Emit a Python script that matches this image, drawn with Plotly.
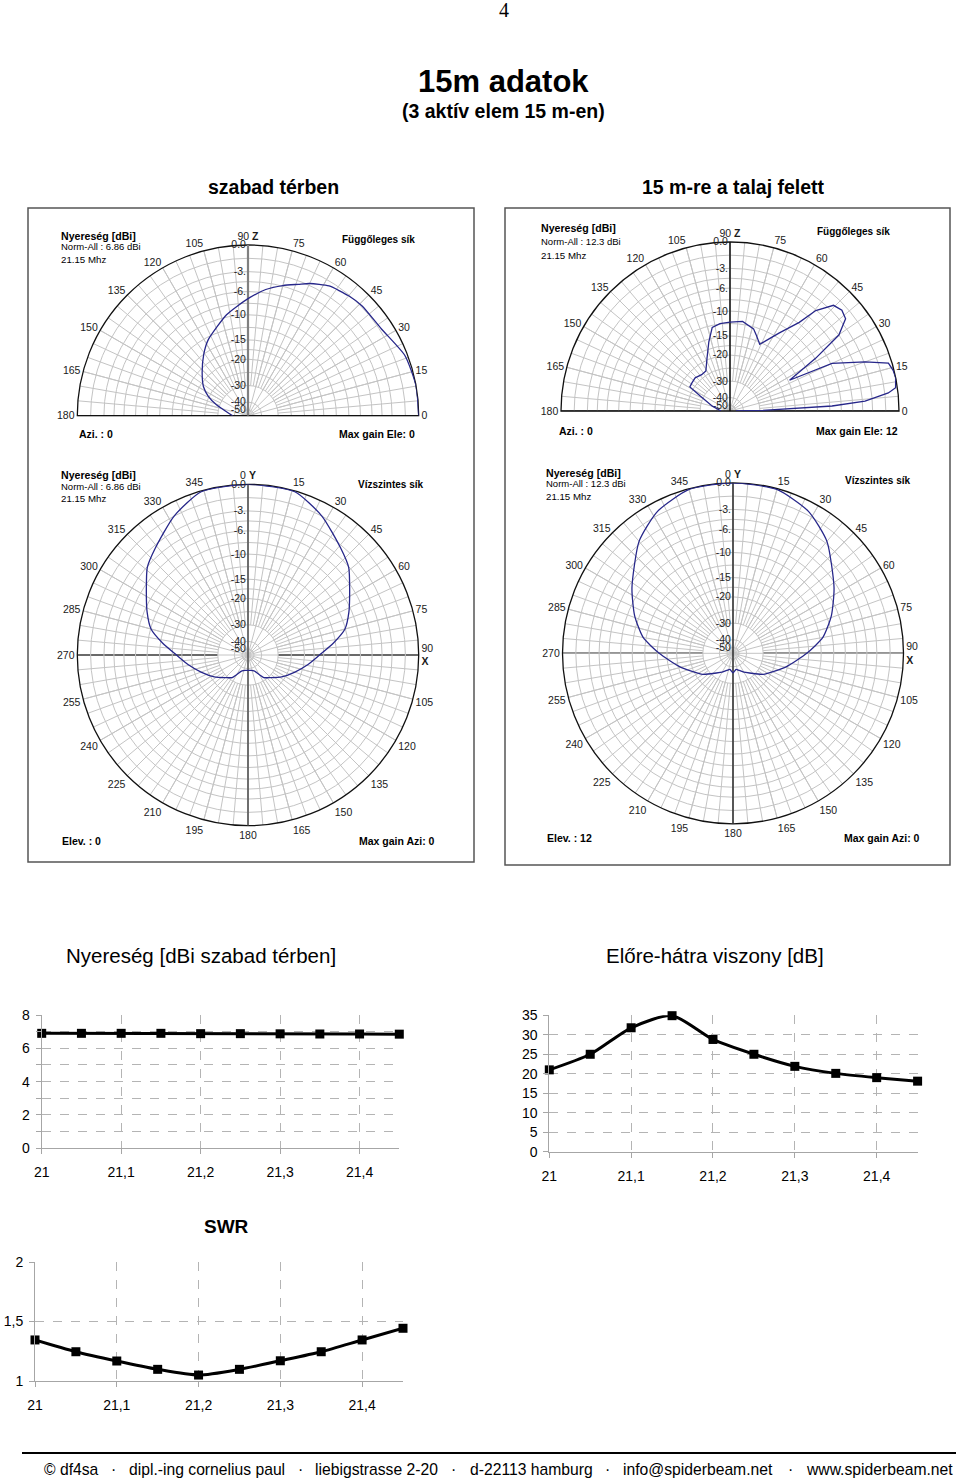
import numpy as np
import plotly.graph_objects as go

W, H = 960, 1480

# ---------------- data ----------------
freq_mhz = [21.0, 21.05, 21.1, 21.15, 21.2, 21.25, 21.3, 21.35, 21.4, 21.45]
gain_dbi = [6.9, 6.9, 6.9, 6.9, 6.88, 6.88, 6.87, 6.86, 6.86, 6.85]
front_back_db = [21.0, 25.0, 31.8, 34.9, 28.8, 25.0, 21.9, 20.1, 19.0, 18.1]
swr_values = [1.345, 1.246, 1.168, 1.098, 1.05, 1.098, 1.17, 1.246, 1.345, 1.443]
freq_ticks = [21.0, 21.1, 21.2, 21.3, 21.4]
freq_labels = ["21", "21,1", "21,2", "21,3", "21,4"]

# radial scale of the pattern plots (dB -> relative radius, read from ring positions)
scale_db = [-50, -40, -30, -20, -15, -10, -6, -3, 0]
scale_r = [0.035, 0.08, 0.177, 0.331, 0.444, 0.591, 0.727, 0.844, 1.0]
ring_db = [0, -3, -6, -10, -15, -20, -30, -40, -50]
ring_labels = ["0.0", "-3.", "-6.", "-10", "-15", "-20", "-30", "-40", "-50"]
minor_ring_db = [-1.5, -4.5, -8, -12.5, -17.5, -25]

# elevation pattern, free space
elev_free_deg = [0, 10, 21, 33, 44, 50, 58, 65, 69, 75, 82, 89, 96, 102, 109, 118,
                 126, 137, 147, 154, 161, 174, 180]
elev_free_db = [0, 0, -0.3, -1.3, -1.4, -1.6, -2.0, -2.8, -3.5, -4.4, -5.5, -7.0,
                -8.5, -9.6, -11.3, -13.1, -15.1, -18.4, -21.3, -24.7, -28.8, -37.0, -39.0]

# elevation pattern, 15 m above ground
elev_gnd_deg = [0, 1.2, 2.8, 4.2, 6.5, 8, 11.5, 14, 16.8, 20, 25, 27.3, 31.6, 34.9,
                38.6, 42, 45.6, 49.5, 52, 57.7, 61.4, 66, 71, 74, 82, 90, 96.5, 102,
                107, 113.6, 121, 128, 136.4, 143.5, 149, 153.4, 164.7, 180]
elev_gnd_db = [-50, -28.8, -9.6, -4.1, -1.1, -0.2, 0, -0.1, -0.4, -2.9, -7.8, -17.1,
               -9.9, -4.5, -2.4, -2.1, -2.4, -4.6, -7.8, -11.5, -13.5, -15.5, -13.9,
               -12.9, -11.9, -12.2, -12.4, -12.9, -15.7, -19.6, -23.5, -23.8, -23.0,
               -23.3, -23.5, -28.7, -37.1, -46]

# azimuth pattern, free space
azim_free_deg = [0, 16, 28, 41, 49, 57, 67, 75, 82, 90, 99, 110, 123, 135, 145, 150,
                 158, 170, 180, 190, 202, 210, 215, 225, 237, 250, 261, 270, 278, 285,
                 293, 303, 311, 319, 332, 344, 360]
azim_free_db = [0, -0.1, -1.5, -3.4, -4.6, -6.5, -8.5, -10.1, -12.9, -16.1, -18.9,
                -22.5, -26.2, -29.3, -31.6, -34.5, -37.7, -38.8, -39.0, -38.8, -37.7,
                -34.5, -31.6, -29.3, -26.2, -22.5, -18.9, -16.1, -12.9, -10.1, -8.5,
                -6.5, -4.6, -3.4, -1.5, -0.1, 0]

# azimuth pattern, 15 m above ground (elev 12)
azim_gnd_deg = [0, 15, 28, 40, 57, 69, 80, 90, 104, 125, 140, 150, 160, 169, 180,
                191, 200, 210, 220, 235, 256, 270, 280, 291, 303, 320, 332, 345, 360]
azim_gnd_db = [0, -0.1, -1.1, -2.75, -6.6, -9.2, -11.9, -15.5, -20.5, -27.5, -32.7,
               -35.1, -37.2, -38.4, -36.4, -38.4, -37.2, -35.1, -32.7, -27.5, -20.5,
               -15.5, -11.9, -9.2, -6.6, -2.75, -1.1, -0.1, 0]

# ---------------- helpers ----------------
FONT = "Arial, Liberation Sans, sans-serif"
GRID = "#c4c4c4"
CURVE = "#27278a"


def xf(px):
    return px / W


def yf(py):
    return 1 - py / H


def r_of(db):
    return np.interp(np.clip(np.asarray(db, dtype=float), -50, 0), scale_db, scale_r)


fig = go.Figure()
layout = {}
annotations = []
shapes = []

panels = [
    dict(cx=248, cy=415.7, R=170.7, half=True, ang=elev_free_deg, db=elev_free_db,
         vcol="#808080", vw=2.2, hcol="#222222", hw=1.5, shape="spline"),
    dict(cx=730, cy=411, R=169, half=True, ang=elev_gnd_deg, db=elev_gnd_db,
         vcol="#111111", vw=1.5, hcol="#222222", hw=1.5, shape="linear"),
    dict(cx=248, cy=655, R=170.7, half=False, ang=azim_free_deg, db=azim_free_db,
         vcol="#555555", vw=1.6, hcol="#111111", hw=1.8, shape="spline"),
    dict(cx=733, cy=653.3, R=170.5, half=False, ang=azim_gnd_deg, db=azim_gnd_db,
         vcol="#222222", vw=1.4, hcol="#222222", hw=1.4, shape="spline"),
]

ring_vals = list(r_of(ring_db)) + list(r_of(minor_ring_db))
ring_text = ring_labels + [""] * len(minor_ring_db)

for i, p in enumerate(panels):
    spoke_name = "polar" if i == 0 else f"polar{2 * i + 1}"
    main_name = f"polar{2 * i + 2}"
    cx, cy, R = p["cx"], p["cy"], p["R"]
    if p["half"]:
        dom = dict(x=[xf(cx - R), xf(cx + R)], y=[yf(cy), yf(cy - R)])
        sector = [0, 180]
        rot, direc = 0, "counterclockwise"
        lab_vals = list(range(0, 181, 15))
        lab_text = ["90 <b>Z</b>" if v == 90 else str(v) for v in lab_vals]
        spoke_vals = list(range(0, 181, 5))
    else:
        dom = dict(x=[xf(cx - R), xf(cx + R)], y=[yf(cy + R), yf(cy - R)])
        sector = [0, 360]
        rot, direc = 90, "clockwise"
        lab_vals = list(range(0, 360, 15))
        lab_text = []
        for v in lab_vals:
            if v == 0:
                lab_text.append("0 <b>Y</b>")
            elif v == 90:
                lab_text.append("90<br><b>X</b>")
            else:
                lab_text.append(str(v))
        spoke_vals = list(range(0, 360, 5))

    # underlying polar: fine 5-degree spokes outside the inner rings
    layout[spoke_name] = dict(
        domain=dom, sector=sector, hole=float(r_of(-30)), bgcolor="white",
        radialaxis=dict(visible=False, range=[0, 1]),
        angularaxis=dict(rotation=rot, direction=direc, tickmode="array",
                         tickvals=spoke_vals, showticklabels=False, ticks="",
                         showline=False, showgrid=True, gridcolor=GRID, gridwidth=1),
    )
    # main polar: rings, 15-degree spokes, labels, pattern
    layout[main_name] = dict(
        domain=dom, sector=sector, bgcolor="rgba(0,0,0,0)",
        radialaxis=dict(range=[0, 1], tickmode="array", tickvals=ring_vals,
                        ticktext=ring_text, showline=False, ticks="", angle=90,
                        tickangle=90, side="counterclockwise", showgrid=True,
                        gridcolor=GRID, gridwidth=1, layer="below traces",
                        tickfont=dict(family=FONT, size=10.5, color="#222222")),
        angularaxis=dict(rotation=rot, direction=direc, tickmode="array",
                         tickvals=lab_vals, ticktext=lab_text, ticks="",
                         showline=True, linecolor="#111111", linewidth=1.3,
                         showgrid=True, gridcolor=GRID, gridwidth=1,
                         layer="below traces",
                         tickfont=dict(family=FONT, size=10.5, color="#1a1a1a")),
    )

    # axis lines through the centre
    if p["half"]:
        fig.add_trace(go.Scatterpolar(r=[1, 1], theta=[0, 180], mode="lines",
                                      line=dict(color=p["hcol"], width=p["hw"]),
                                      subplot=spoke_name, hoverinfo="skip",
                                      showlegend=False))
        fig.add_trace(go.Scatterpolar(r=[0, 1], theta=[90, 90], mode="lines",
                                      line=dict(color=p["vcol"], width=p["vw"]),
                                      subplot=main_name, hoverinfo="skip",
                                      showlegend=False))
    else:
        fig.add_trace(go.Scatterpolar(r=[1, 1], theta=[90, 270], mode="lines",
                                      line=dict(color=p["hcol"], width=p["hw"]),
                                      subplot=spoke_name, hoverinfo="skip",
                                      showlegend=False))
        fig.add_trace(go.Scatterpolar(r=[1, 1], theta=[0, 180], mode="lines",
                                      line=dict(color=p["vcol"], width=p["vw"]),
                                      subplot=main_name, hoverinfo="skip",
                                      showlegend=False))
    line_kw = dict(color=CURVE, width=1.3, shape=p["shape"])
    if p["shape"] == "spline":
        line_kw["smoothing"] = 0.6
    fig.add_trace(go.Scatterpolar(r=r_of(p["db"]), theta=p["ang"], mode="lines",
                                  line=line_kw, subplot=main_name,
                                  hoverinfo="skip", showlegend=False))


def add_text(text, x, y, size, bold=False, anchor="center", color="black",
             family=FONT):
    annotations.append(dict(
        text=f"<b>{text}</b>" if bold else text, x=xf(x), y=yf(y),
        xref="paper", yref="paper", xanchor=anchor, yanchor="middle",
        showarrow=False, borderpad=0,
        font=dict(family=family, size=size, color=color)))


# page header
add_text("4", 504, 10, 20, family="Liberation Serif, Times New Roman, serif")
add_text("15m adatok", 503, 82, 31, bold=True)
add_text("(3 aktív elem 15 m-en)", 503, 111, 19.5, bold=True)
add_text("szabad térben", 273, 187, 19.5, bold=True)
add_text("15 m-re a talaj felett", 733, 187, 19.5, bold=True)

# frames around the pattern plots
for (x0, y0, x1, y1) in [(28, 208, 474, 862), (505, 208, 950, 865)]:
    shapes.append(dict(type="rect", xref="paper", yref="paper",
                       x0=xf(x0), x1=xf(x1), y0=yf(y1), y1=yf(y0),
                       line=dict(color="#555555", width=1.5)))

# pattern plot captions
caption_sets = [
    (60, 236.2, 246.2, 259, "Norm-All : 6.86 dBi", 341, 239.3, "Függőleges sík",
     78, 434.3, "Azi. : 0", 338, "Max gain Ele: 0"),
    (539.7, 228.5, 241.2, 255.7, "Norm-All : 12.3 dBi", 816.3, 231.7, "Függőleges sík",
     558, 431, "Azi. : 0", 814.7, "Max gain Ele: 12"),
    (60.3, 475.2, 486.2, 499, "Norm-All : 6.86 dBi", 357.3, 484.3, "Vízszintes sík",
     61.3, 840.7, "Elev. : 0", 358, "Max gain Azi: 0"),
    (544.7, 472.8, 483.8, 496.7, "Norm-All : 12.3 dBi", 843.7, 480, "Vízszintes sík",
     545.7, 838.3, "Elev. : 12", 843, "Max gain Azi: 0"),
]
for (lx, y1, y2, y3, norm, rx, ry, plane, bx, by, btxt, mx, mtxt) in caption_sets:
    add_text("Nyereség [dBi]", lx, y1, 10.6, bold=True, anchor="left")
    add_text(norm, lx, y2, 9.5, anchor="left")
    add_text("21.15 Mhz", lx, y3, 9.7, anchor="left")
    add_text(plane, rx, ry, 10, bold=True, anchor="left")
    add_text(btxt, bx, by, 10.5, bold=True, anchor="left")
    add_text(mtxt, mx, by, 10.5, bold=True, anchor="left")

# line-chart titles
add_text("Nyereség [dBi szabad térben]", 201, 955, 20.5)
add_text("Előre-hátra viszony [dB]", 715, 955, 20.5)
add_text("SWR", 226, 1226, 19, bold=True)

# ---------------- line charts ----------------
AX = "#a6a6a6"
GR2 = "#b4b4b4"
tickfont = dict(family=FONT, size=14, color="black")

charts = [
    dict(x="x", y="y", xd=(41.7, 399.3), yd=(1015, 1148.3), yr=[0, 8],
         yt=[0, 2, 4, 6, 8], ytt=["0", "2", "4", "6", "8"], minor=1,
         vals=gain_dbi, shape="linear"),
    dict(x="x2", y="y2", xd=(549.3, 917.6), yd=(1015.3, 1151.7), yr=[0, 35],
         yt=[0, 5, 10, 15, 20, 25, 30, 35],
         ytt=["0", "5", "10", "15", "20", "25", "30", "35"], minor=None,
         vals=front_back_db, shape="spline"),
    dict(x="x3", y="y3", xd=(35, 403), yd=(1262, 1381), yr=[1, 2],
         yt=[1, 1.5, 2], ytt=["1", "1,5", "2"], minor=None,
         vals=swr_values, shape="spline"),
]
for k, c in enumerate(charts):
    xname = "xaxis" if k == 0 else f"xaxis{k + 1}"
    yname = "yaxis" if k == 0 else f"yaxis{k + 1}"
    layout[xname] = dict(
        domain=[xf(c["xd"][0]), xf(c["xd"][1])], range=[21, 21.45], anchor=c["y"],
        tickmode="array", tickvals=freq_ticks, ticktext=freq_labels,
        showgrid=True, gridcolor=GR2, griddash="dash", gridwidth=1,
        showline=True, linecolor=AX, linewidth=1, zeroline=False,
        ticks="outside", ticklen=5, tickcolor=AX, tickfont=tickfont,
        ticklabelstandoff=6, fixedrange=True)
    ydict = dict(
        domain=[yf(c["yd"][1]), yf(c["yd"][0])], range=c["yr"], anchor=c["x"],
        tickmode="array", tickvals=c["yt"], ticktext=c["ytt"],
        showgrid=True, gridcolor=GR2, griddash="dash", gridwidth=1,
        showline=True, linecolor=AX, linewidth=1, zeroline=False,
        ticks="outside", ticklen=5, tickcolor=AX, tickfont=tickfont,
        ticklabelstandoff=3, fixedrange=True)
    if c["minor"]:
        ydict["minor"] = dict(dtick=c["minor"], tick0=0, showgrid=True,
                              gridcolor=GR2, griddash="dash", ticks="outside",
                              ticklen=5, tickcolor=AX)
    layout[yname] = ydict
    lk = dict(color="black", width=3, shape=c["shape"])
    if c["shape"] == "spline":
        lk["smoothing"] = 0.7
    fig.add_trace(go.Scatter(x=freq_mhz, y=c["vals"], mode="lines+markers",
                             xaxis=c["x"], yaxis=c["y"], line=lk,
                             marker=dict(symbol="square", size=9, color="black"),
                             cliponaxis=False, hoverinfo="skip", showlegend=False))

# ---------------- footer ----------------
shapes.append(dict(type="line", xref="paper", yref="paper", x0=xf(22), x1=xf(956),
                   y0=yf(1453), y1=yf(1453), line=dict(color="black", width=2)))
footer_parts = [("© df4sa", 71.5), ("·", 113), ("dipl.-ing cornelius paul", 206.5),
                ("·", 300), ("liebigstrasse 2-20", 376.5), ("·", 453),
                ("d-22113 hamburg", 531), ("·", 607), ("info@spiderbeam.net", 697.5),
                ("·", 790), ("www.spiderbeam.net", 879.5)]
for txt, x in footer_parts:
    add_text(txt, x, 1469, 15.7)

fig.update_layout(
    width=W, height=H, margin=dict(l=0, r=0, t=0, b=0),
    paper_bgcolor="white", plot_bgcolor="white", template="none",
    showlegend=False, annotations=annotations, shapes=shapes,
    font=dict(family=FONT, color="black"),
    **layout,
)

fig.write_html("out.html",
               config={"displayModeBar": False, "staticPlot": True},
               post_script="document.body.style.margin='0';"
                           "document.body.style.overflow='hidden';")
